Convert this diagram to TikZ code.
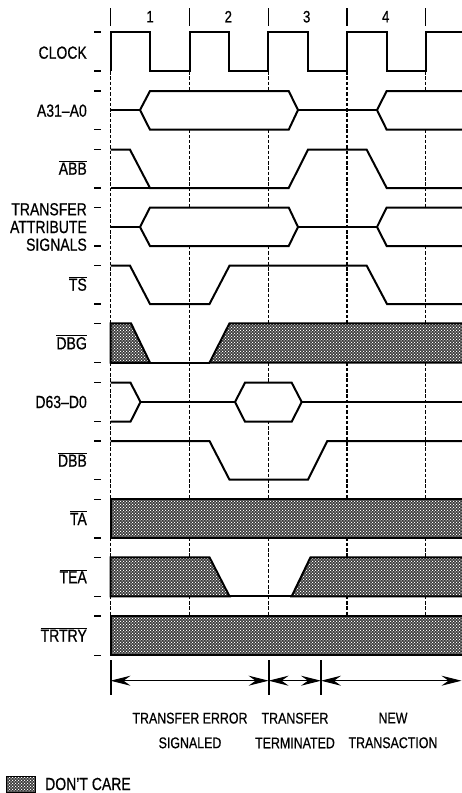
\documentclass[tikz,border=0pt]{standalone}
\usepackage{fontspec}
\setmainfont[FakeStretch=0.8,FakeBold=0.6]{Liberation Sans}
\usetikzlibrary{arrows.meta,patterns}
\pgfdeclarepatternformonly{dontcarecheck}{\pgfqpoint{-0.1pt}{-0.1pt}}{\pgfqpoint{3.1pt}{3.1pt}}{\pgfqpoint{3pt}{3pt}}{
  \pgfpathrectangle{\pgfqpoint{0pt}{0pt}}{\pgfqpoint{1.2pt}{1.2pt}}
  \pgfpathrectangle{\pgfqpoint{1.5pt}{1.5pt}}{\pgfqpoint{1.2pt}{1.2pt}}
  \pgfusepath{fill}
}
\newcommand{\barred}[1]{$\overline{\mbox{#1}}$}

\begin{document}
\begin{tikzpicture}[x=1pt, y=-1pt,
  sig/.style={line width=2pt, line join=miter},
  thinsig/.style={line width=1.3pt},
  bus/.style={sig, fill=white},
  dontcare/.style={sig, draw=black, preaction={fill=black!78},
                   pattern=dontcarecheck, pattern color=white},
  gridline/.style={line width=1.1pt, dash pattern=on 3.5pt off 1.8pt},
  cycletick/.style={line width=1.5pt},
  tickmark/.style={line width=1.4pt},
  marker/.style={line width=2pt},
  span/.style={line width=1pt,
               {Stealth[length=20pt, width=10pt, inset=7pt]}-{Stealth[length=20pt, width=10pt, inset=7pt]}},
  siglabel/.style={font=\fontsize{17.5}{17.7}\selectfont, inner sep=0pt, anchor=base east},
  cyclelabel/.style={font=\fontsize{16.5}{18}\selectfont, inner sep=0pt},
  phaselabel/.style={font=\fontsize{15.5}{24.7}\selectfont, inner sep=0pt, align=center}
]
\useasboundingbox (0,0) rectangle (461,793);

% dashed cycle boundaries
\draw[gridline] (110.5,71) -- (110.5,616);
\draw[gridline] (189.7,71) -- (189.7,616);
\draw[gridline] (268.3,71) -- (268.3,616);
\draw[gridline] (347,71) -- (347,616);
\draw[gridline] (425.7,71) -- (425.7,616);

\draw[cycletick] (110.5,8) -- (110.5,25.5);
\draw[cycletick] (189.7,8) -- (189.7,25.5);
\draw[cycletick] (268.3,8) -- (268.3,25.5);
\draw[cycletick] (347,8) -- (347,25.5);
\draw[cycletick] (425.7,8) -- (425.7,25.5);

\node[cyclelabel] (c1) at (150,16.7) {1};
\node[cyclelabel] (c2) at (228.3,16.7) {2};
\node[cyclelabel] (c3) at (306.7,16.7) {3};
\node[cyclelabel] (c4) at (385.7,16.7) {4};

% CLOCK
\node[siglabel] (clock) at (87,58.7) {CLOCK};
\draw[tickmark] (94,32) -- (101,32) (94,71) -- (101,71);
\draw[sig] (110.5,71) -- (110.5,32) -- (150,32) -- (150,71) -- (189.7,71) -- (189.7,32)
  -- (229.3,32) -- (229.3,71) -- (268.3,71) -- (268.3,32) -- (308,32) -- (308,71)
  -- (347,71) -- (347,32) -- (386.7,32) -- (386.7,71) -- (425.7,71) -- (425.7,32) -- (464,32);

% A31-A0
\node[siglabel] (addr) at (87,116.7) {A31--A0};
\draw[tickmark] (94,91) -- (101,91) (94,129.7) -- (101,129.7);
\draw[sig] (110.5,110) -- (140,110) (298,110) -- (377,110);
\draw[bus] (140,110) -- (150,91) -- (288.7,91) -- (298,110) -- (288.7,129.7) -- (150,129.7) -- cycle;
\draw[bus] (377,110) -- (386.7,91) -- (470,91) -- (470,129.7) -- (386.7,129.7) -- cycle;

% ABB
\node[siglabel] (abb) at (87,174.7) {\barred{ABB}};
\draw[tickmark] (94,149.7) -- (101,149.7) (94,188) -- (101,188);
\draw[sig] (110.5,149.7) -- (130,149.7) -- (150,188) -- (288.7,188) -- (308,149.7)
  -- (366.7,149.7) -- (386.7,188) -- (464,188);
\draw[thinsig] (110.5,188) -- (150,188);

% transfer attributes
\node[siglabel, anchor=east, align=right] (attr) at (87,227) {TRANSFER\\ATTRIBUTE\\SIGNALS};
\draw[tickmark] (94,207.5) -- (101,207.5) (94,246) -- (101,246);
\draw[sig] (110.5,227) -- (140,227) (298,227) -- (377,227);
\draw[bus] (140,227) -- (150,207.5) -- (288.7,207.5) -- (298,227) -- (288.7,246) -- (150,246) -- cycle;
\draw[bus] (377,227) -- (386.7,207.5) -- (470,207.5) -- (470,246) -- (386.7,246) -- cycle;

% TS
\node[siglabel] (ts) at (87,290.7) {\barred{TS}};
\draw[tickmark] (94,265.7) -- (101,265.7) (94,304) -- (101,304);
\draw[sig] (110.5,265.7) -- (130,265.7) -- (150,304) -- (209.5,304) -- (229.5,265.7)
  -- (366.7,265.7) -- (387,304) -- (464,304);

% DBG
\node[siglabel] (dbg) at (87,349.3) {\barred{DBG}};
\draw[tickmark] (94,323.3) -- (101,323.3) (94,362.7) -- (101,362.7);
\draw[dontcare] (110.5,323.3) -- (131,323.3) -- (150,362.7) -- (110.5,362.7) -- cycle;
\draw[dontcare] (209.5,362.7) -- (229.5,323.3) -- (470,323.3) -- (470,362.7) -- cycle;
\draw[sig] (110.5,362.7) -- (209.5,362.7);

% D63-D0
\node[siglabel] (data) at (87,408) {D63--D0};
\draw[tickmark] (94,382.7) -- (101,382.7) (94,421.7) -- (101,421.7);
\draw[thinsig] (140.5,402) -- (235,402) (301.7,402) -- (464,402);
\draw[sig] (110.5,382.7) -- (130.5,382.7) -- (140.5,402) -- (130.5,421.7) -- (110.5,421.7);
\draw[bus] (235,402) -- (245,382.7) -- (291.7,382.7) -- (301.7,402) -- (291.7,421.7) -- (245,421.7) -- cycle;

% DBB
\node[siglabel] (dbb) at (87,466.7) {\barred{DBB}};
\draw[tickmark] (94,441) -- (101,441) (94,479.7) -- (101,479.7);
\draw[sig] (110.5,441) -- (209.5,441) -- (229.5,479.7) -- (308,479.7) -- (327.3,441) -- (464,441);

% TA
\node[siglabel] (ta) at (87,525) {\barred{TA}};
\draw[tickmark] (94,499.3) -- (101,499.3) (94,538) -- (101,538);
\draw[dontcare] (110.5,499.3) rectangle (470,538);

% TEA
\node[siglabel] (tea) at (87,583.3) {\barred{TEA}};
\draw[tickmark] (94,557.3) -- (101,557.3) (94,596.3) -- (101,596.3);
\draw[dontcare] (110.5,557.3) -- (209.5,557.3) -- (229.5,596.3) -- (110.5,596.3) -- cycle;
\draw[dontcare] (291.7,596.3) -- (310.5,557.3) -- (470,557.3) -- (470,596.3) -- cycle;
\draw[sig] (229.5,596.3) -- (291.7,596.3);

% TRTRY
\node[siglabel] (trtry) at (87,641.7) {\barred{TRTRY}};
\draw[tickmark] (94,616) -- (101,616) (94,655.3) -- (101,655.3);
\draw[dontcare] (110.5,616) rectangle (470,655.3);

% phase brackets
\coordinate (m0) at (110.5,680.7);
\coordinate (m1) at (268.6,680.7);
\coordinate (m2) at (321,680.7);
\coordinate (m3) at (461.5,680.7);
\draw[marker] (m0) ++(0,-20.7) -- ++(0,34.7);
\draw[marker] (m1) ++(0,-20.7) -- ++(0,34.7);
\draw[marker] (m2) ++(0,-20.7) -- ++(0,34.7);
\draw[span] (m0) -- (m1);
\draw[span] (m1) -- (m2);
\draw[span] (m2) -- (m3);

\node[phaselabel] (errlabel) at (190,730.5) {TRANSFER ERROR\\SIGNALED};
\node[phaselabel] (termlabel) at (295,730.5) {TRANSFER\\TERMINATED};
\node[phaselabel] (newlabel) at (393,730.5) {NEW\\TRANSACTION};

% legend
\draw[dontcare, line width=0.6pt] (6,776) rectangle (35,792);
\node[siglabel, anchor=base west] (legend) at (45,790) {DON'T CARE};
\end{tikzpicture}
\end{document}
